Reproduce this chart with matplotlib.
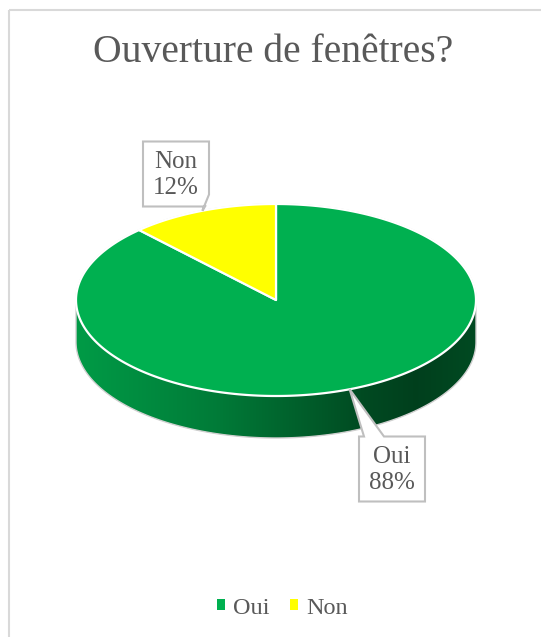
import numpy as np
import matplotlib
matplotlib.use('Agg')
import matplotlib.pyplot as plt
from matplotlib.patches import Polygon, Patch

# data
labels = ['Oui', 'Non']
values = [88, 12]
colors = ['#00B050', '#FFFF00']
title = 'Ouverture de fenêtres?'

W, H = 541, 637
TXT = '#595959'
FONT = 'Liberation Serif'

fig = plt.figure(figsize=(W / 100, H / 100), dpi=100)
ax = fig.add_axes([0, 0, 1, 1])
ax.set_xlim(0, W)
ax.set_ylim(H, 0)
ax.axis('off')

# chart area border (only top/left visible in the crop)
ax.add_patch(plt.Rectangle((8.5, 9.5), W + 20, H + 20, fill=False,
                           edgecolor='#d9d9d9', lw=1.5))

# 3D pie geometry (pixels)
cx, cy, rx, ry, depth = 276, 300, 200, 96, 42


def ell(t, dy=0):
    t = np.radians(t)
    return cx + rx * np.cos(t), cy - ry * np.sin(t) + dy


def side_shade(x):
    # brightness multiplier along the rim, left to right
    xs = [0.0, 0.35, 0.72, 0.85, 1.0]
    ms = [0.88, 0.70, 0.42, 0.36, 0.42]
    return np.interp(x, xs, ms)


# slice angles: start at 12 o'clock, clockwise
total = sum(values)
starts, ends = [], []
a = 90.0
for v in values:
    starts.append(a)
    a -= v / total * 360.0
    ends.append(a)

# side (front half only: angles -180..0)
for v, c, a0, a1 in zip(values, colors, starts, ends):
    lo, hi = a1, a0
    for k in (-1, 0, 1):
        l2, h2 = max(lo + 360 * k, -180), min(hi + 360 * k, 0)
        if h2 <= l2:
            continue
        t = np.linspace(l2, h2, 200)
        xt, yt = ell(t)
        xb, yb = ell(t[::-1], depth)
        pts = np.column_stack([np.r_[xt, xb], np.r_[yt, yb]])
        poly = Polygon(pts, closed=True, facecolor='none', edgecolor='none')
        ax.add_patch(poly)
        base = np.array(matplotlib.colors.to_rgb(c))
        gx = np.linspace(0, 1, 400)
        img = (side_shade(gx)[:, None] * base[None, :])[None, :, :]
        im = ax.imshow(img, extent=(cx - rx, cx + rx, cy + ry + depth, cy - ry),
                       aspect='auto', interpolation='bilinear', zorder=1)
        im.set_clip_path(poly)

# outer light outline of the whole disc
xt, yt = ell(np.linspace(0, 180, 200))
xb, yb = ell(np.linspace(-180, 0, 200), depth)
ax.add_patch(Polygon(np.column_stack([np.r_[xt, xb], np.r_[yt, yb]]),
                     closed=True, facecolor='none', edgecolor='#d0d0d0',
                     lw=1.0, zorder=2))

# top face
for v, c, a0, a1 in zip(values, colors, starts, ends):
    t = np.linspace(a0, a1, 300)
    xt, yt = ell(t)
    pts = np.column_stack([np.r_[cx, xt], np.r_[cy, yt]])
    ax.add_patch(Polygon(pts, closed=True, facecolor=c, edgecolor='white',
                         lw=1.6, joinstyle='round', zorder=3))

# data labels with callouts
label_pos = {'Non': (176, 174), 'Oui': (392, 469)}
bw, bh = 66, 65
for lab, v, a0, a1 in zip(labels, values, starts, ends):
    mid = (a0 + a1) / 2
    axx, ayy = ell(mid)
    lx, ly = label_pos[lab]
    x0, x1, y0, y1 = lx - bw / 2, lx + bw / 2, ly - bh / 2, ly + bh / 2
    if ayy < y0:
        # tail on top edge
        pts = [(x0, y0), (x0 + 5, y0), (axx, ayy), (x0 + 25, y0), (x1, y0),
               (x1, y1), (x0, y1)]
    else:
        # tail at lower right
        pts = [(x0, y0), (x1, y0), (x1, y1 - 12), (axx, ayy), (x1 - 4, y1),
               (x0, y1)]
    ax.add_patch(Polygon(pts, closed=True, facecolor='white',
                         edgecolor='#bfbfbf', lw=1.5, zorder=5))
    ax.text(lx, ly + 1, f'{lab}\n{v / total:.0%}', ha='center', va='center',
            fontsize=18, color=TXT, family=FONT, linespacing=1.2, zorder=6)

# title
ax.text(273, 52, title, ha='center', va='center', fontsize=28.5,
        color=TXT, family=FONT)

# legend
handles = [Patch(facecolor=c, edgecolor='none') for c in colors]
fig.legend(handles, labels, loc='center', bbox_to_anchor=(0.522, 1 - 608 / H),
           ncol=2, frameon=False, handlelength=0.32, handleheight=0.32,
           handletextpad=0.35, columnspacing=0.85,
           prop={'family': FONT, 'size': 17.5}, labelcolor=TXT)

fig.savefig('out.png', dpi=100)
